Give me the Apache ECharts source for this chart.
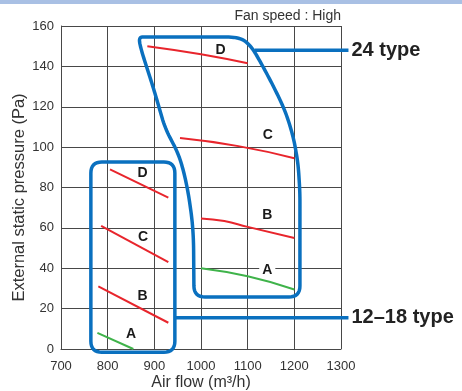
<!DOCTYPE html>
<html>
<head>
<meta charset="utf-8">
<script src="https://cdn.jsdelivr.net/npm/echarts@6/dist/echarts.min.js"></script>
<style>
  html, body { margin: 0; padding: 0; background: #fff; }
  #chart { width: 462px; height: 391px; }
</style>
</head>
<body>
<div id="chart"></div>
<script>
// axis ticks
const xTicks = [700, 800, 900, 1000, 1100, 1200, 1300]
const yTicks = [0, 20, 40, 60, 80, 100, 120, 140, 160]

// 12–18 type curves  [air flow, pressure]
const small_D = [[805, 89], [930, 75]]
const small_C = [[786, 61], [930, 43]]
const small_B = [[780, 31], [930, 13]]
const small_A = [[778, 8], [855, 0]]

// 24 type curves
const big_D = [[885, 150], [1000, 146], [1100, 141.5]]
const big_C = [[955, 104.5], [1080, 100.5], [1200, 94.5]]
const big_B = [[1000, 64.7], [1050, 63.4], [1100, 60.5], [1200, 55]]
const big_A = [[1000, 40], [1100, 36], [1200, 29.5]]

// curve letters
const letters = [
  { name: 'D', value: [875, 87] }, { name: 'C', value: [876, 55.5] },
  { name: 'B', value: [875, 26] }, { name: 'A', value: [850, 7.3] },
  { name: 'D', value: [1042, 148] }, { name: 'C', value: [1143, 106] },
  { name: 'B', value: [1142, 66.3] }, { name: 'A', value: [1142, 39], bg: true }
]

// outline of each type range
const box12 = [
  [764, 92.6], [944, 92.6], [944, -1.6], [764, -1.6]
]
const outline24 = [
  [882, 154.5], [1083, 154.5], [1108, 150], [1135, 139], [1160, 128],
  [1182, 117], [1198, 105], [1208, 92], [1212, 78], [1212, 25.8],
  [985, 25.8], [984, 54], [981, 64], [973, 77], [963, 88], [951, 97],
  [923, 109.4], [898, 129.3], [872, 148], [866, 154.5]
]
const tag24 = { from: [1115, 148], to: [1316, 148], text: '24 type' }
const tag12 = { from: [944, 15.5], to: [1316, 15.5], text: '12–18 type' }

const FONT = 'Arial, "Liberation Sans", sans-serif'
const RED = '#e8252c'
const GREEN = '#3fb34a'
const BLUE = '#0a70bf'
const GRIDC = '#484848'

const chart = echarts.init(document.getElementById('chart'))

function curve(data, color, smooth) {
  return {
    type: 'line',
    data: data,
    smooth: smooth,
    symbol: 'none',
    lineStyle: { color: color, width: 2 },
    z: 3
  }
}

// round every corner of a closed pixel polygon, returns dense point list
function rounded(pts, r) {
  const n = pts.length
  const out = []
  for (let i = 0; i < n; i++) {
    const p0 = pts[(i - 1 + n) % n], p = pts[i], p1 = pts[(i + 1) % n]
    const l0 = Math.hypot(p[0] - p0[0], p[1] - p0[1])
    const l1 = Math.hypot(p1[0] - p[0], p1[1] - p[1])
    const r0 = Math.min(r, l0 / 2), r1 = Math.min(r, l1 / 2)
    const a = [p[0] + (p0[0] - p[0]) * r0 / l0, p[1] + (p0[1] - p[1]) * r0 / l0]
    const b = [p[0] + (p1[0] - p[0]) * r1 / l1, p[1] + (p1[1] - p[1]) * r1 / l1]
    for (let k = 0; k <= 8; k++) {
      const t = k / 8
      out.push([
        (1 - t) * (1 - t) * a[0] + 2 * t * (1 - t) * p[0] + t * t * b[0],
        (1 - t) * (1 - t) * a[1] + 2 * t * (1 - t) * p[1] + t * t * b[1]
      ])
    }
  }
  return out
}

chart.setOption({
  animation: false,
  textStyle: { fontFamily: FONT },
  graphic: [
    { type: 'rect', left: 0, top: 0, shape: { width: 462, height: 4 }, style: { fill: '#a9c0e4' } },
    { type: 'text', right: 121, top: 9, style: { text: 'Fan speed : High', font: '14px ' + FONT, fill: '#333' } }
  ],
  grid: { left: 61, right: 121, top: 26, bottom: 42, outerBoundsMode: 'none' },
  xAxis: {
    type: 'value',
    min: xTicks[0],
    max: xTicks[xTicks.length - 1],
    interval: 100,
    name: 'Air flow (m³/h)',
    nameLocation: 'middle',
    nameGap: 26,
    nameMoveOverlap: false,
    nameTextStyle: { fontSize: 16, color: '#333' },
    axisLine: { lineStyle: { color: GRIDC, width: 1 } },
    axisTick: { show: false },
    axisLabel: { fontSize: 13, color: '#333', margin: 11, formatter: v => String(v) },
    splitLine: { lineStyle: { color: GRIDC, width: 1 } }
  },
  yAxis: {
    type: 'value',
    min: yTicks[0],
    max: yTicks[yTicks.length - 1],
    interval: 20,
    name: 'External static pressure (Pa)',
    nameLocation: 'middle',
    nameGap: 33,
    nameMoveOverlap: false,
    nameTextStyle: { fontSize: 16.5, color: '#333', padding: [0, 20, 0, 0] },
    axisLine: { show: true, lineStyle: { color: GRIDC, width: 1 } },
    axisTick: { show: false },
    axisLabel: { fontSize: 13, color: '#333', margin: 7, formatter: v => String(v) },
    splitLine: { lineStyle: { color: GRIDC, width: 1 } }
  },
  series: [
    curve(small_D, RED, false),
    curve(small_C, RED, false),
    curve(small_B, RED, false),
    curve(small_A, GREEN, false),
    curve(big_D, RED, true),
    curve(big_C, RED, true),
    curve(big_B, RED, true),
    curve(big_A, GREEN, true),
    {
      type: 'scatter',
      symbolSize: 0,
      z: 4,
      itemStyle: { opacity: 1 },
      data: letters.map(l => ({
        name: l.name,
        value: l.value,
        label: l.bg ? { backgroundColor: '#fff', padding: [0, 3] } : {}
      })),
      label: {
        show: true,
        position: 'inside',
        formatter: '{b}',
        fontSize: 14,
        fontWeight: 'bold',
        color: '#1a1a1a',
        opacity: 1
      }
    },
    {
      type: 'custom',
      z: 5,
      clip: false,
      data: [[0]],
      renderItem: function (params, api) {
        const c = p => api.coord(p)
        const line = { stroke: BLUE, lineWidth: 3.5, fill: 'none' }
        const tags = [tag24, tag12]
        const children = [
          { type: 'polygon', shape: { points: rounded(box12.map(c), 11) }, style: line },
          { type: 'polygon', shape: { points: rounded(outline24.map(c), 11) }, style: line }
        ]
        tags.forEach(t => {
          const p = c(t.from), q = c(t.to)
          children.push({
            type: 'line',
            shape: { x1: p[0], y1: p[1], x2: q[0], y2: q[1] },
            style: { stroke: BLUE, lineWidth: 3.5 }
          })
          children.push({
            type: 'text',
            style: {
              text: t.text, x: q[0] + 3, y: q[1],
              verticalAlign: 'middle', align: 'left',
              font: 'bold 20px ' + FONT, fill: '#222'
            }
          })
        })
        return { type: 'group', children: children }
      }
    }
  ]
})
</script>
</body>
</html>
